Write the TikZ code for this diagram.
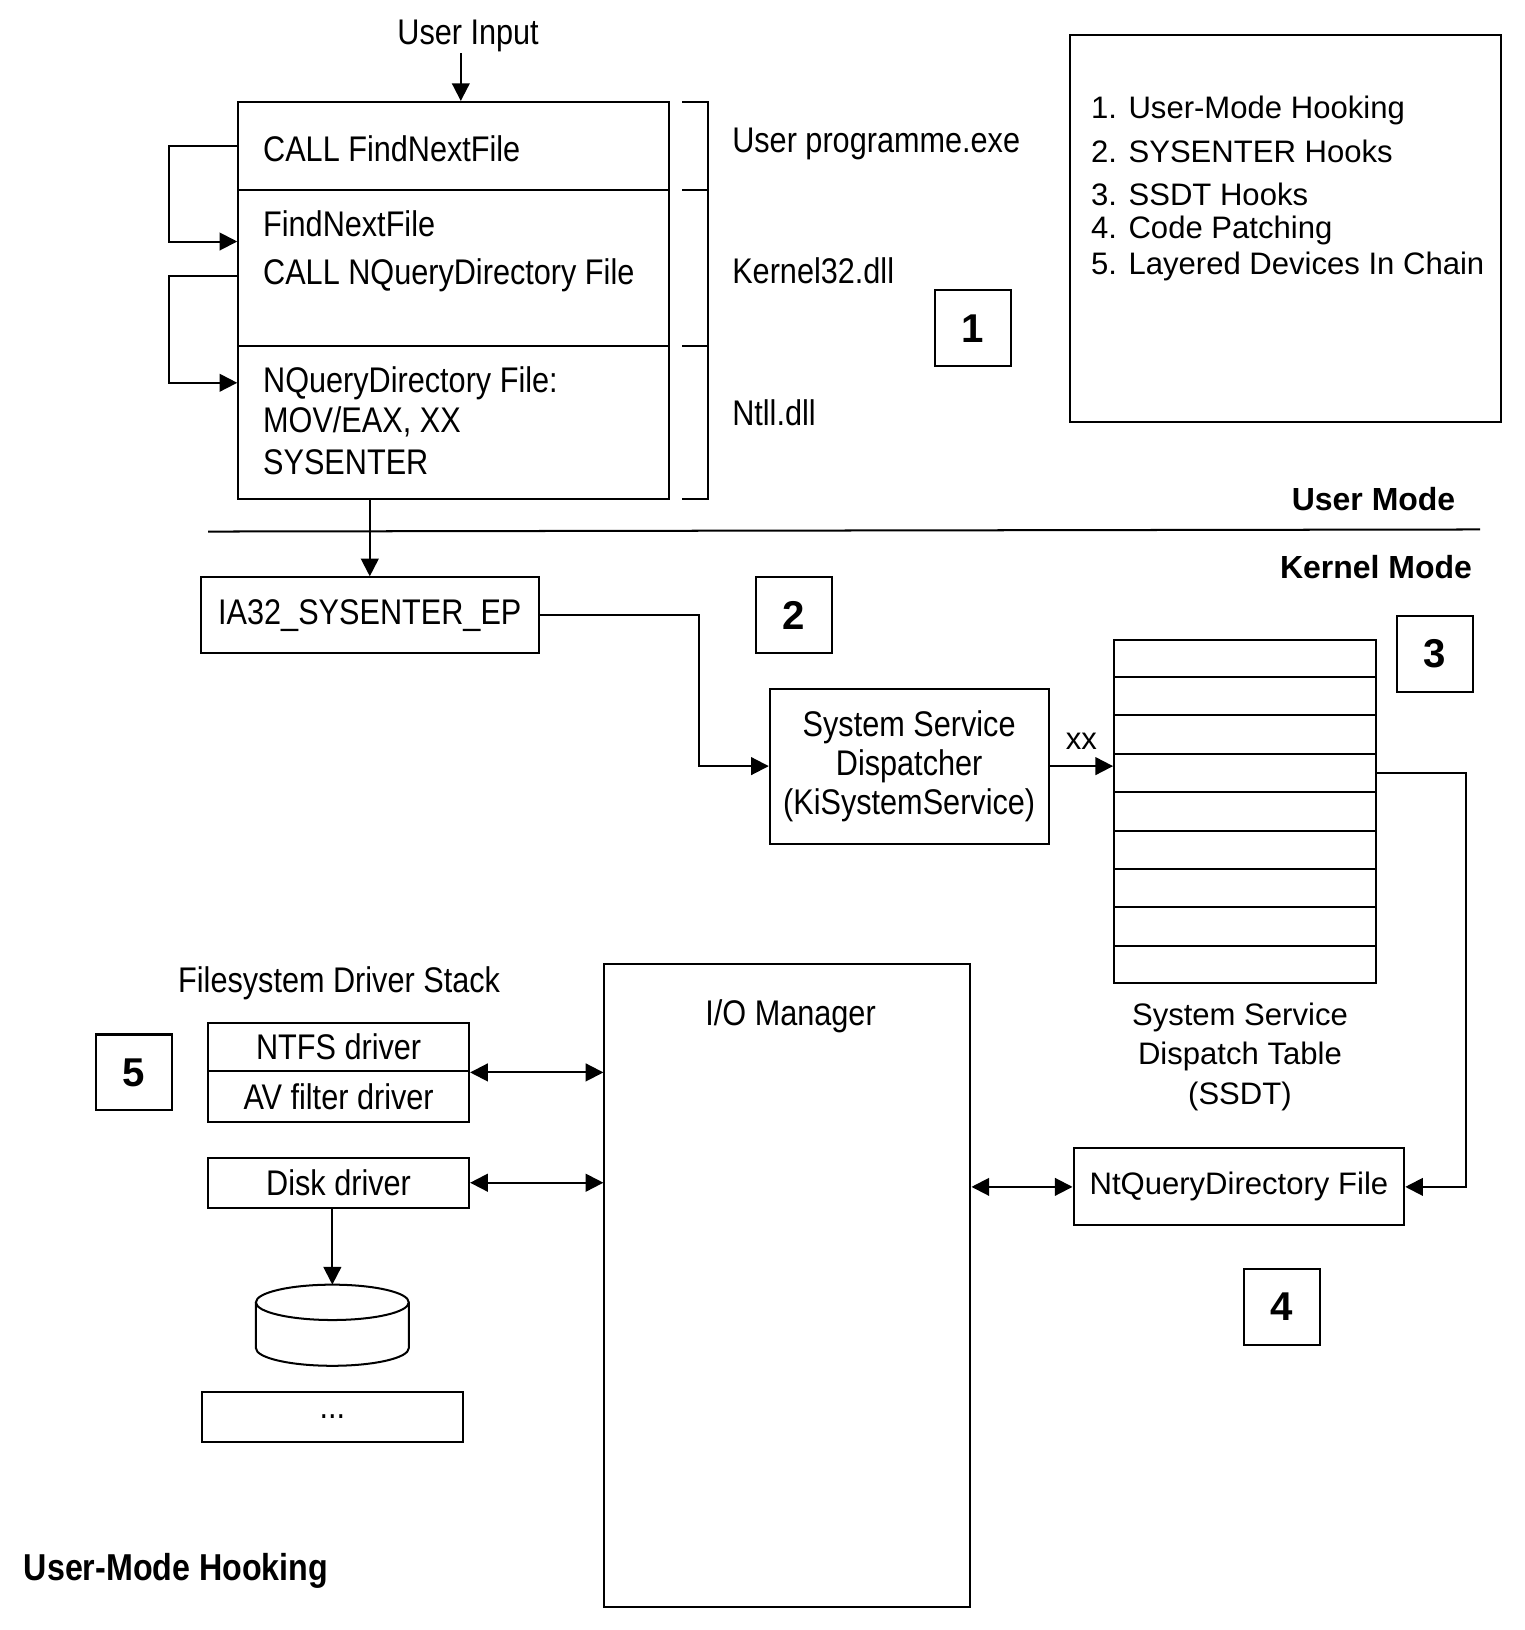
\documentclass[tikz,border=0pt]{standalone}
\usepackage{fontspec}
\setmainfont{Liberation Sans}
\newfontfamily\condfont[FakeStretch=0.86]{Liberation Sans}
\usetikzlibrary{arrows.meta,calc}

\begin{document}
\begin{tikzpicture}[x=0.02cm,y=-0.02cm,line width=1.1pt,
    box/.style={draw,inner sep=0pt},
    cond/.style={font=\condfont\fontsize{19.5}{21.5}\selectfont},
    code/.style={cond,inner sep=0pt,anchor=west},
    plain/.style={font=\fontsize{17}{21.8}\selectfont},
    numbox/.style={box,minimum size=1.46cm,font=\bfseries\fontsize{22}{26}\selectfont},
    arr/.style={-{Triangle[length=0.34cm,width=0.34cm]}},
    biarr/.style={{Triangle[length=0.34cm,width=0.34cm]}-{Triangle[length=0.34cm,width=0.34cm]}}]
  \useasboundingbox (0,0) rectangle (1466,1567);

  % user programme, kernel32, ntdll
  \node[box,minimum width=8.28cm,minimum height=1.7cm] (sec1) at (436,140.5) {};
  \node[box,minimum width=8.28cm,minimum height=3cm] (sec2) at (436,258) {};
  \node[box,minimum width=8.28cm,minimum height=2.94cm] (sec3) at (436,406.5) {};
  \node[code] (cfnf) at (252,143) {CALL FindNextFile};
  \node[code] (fnf) at (252,215) {FindNextFile};
  \node[code] (cnqd) at (252,265) {CALL NQueryDirectory File};
  \node[code] (nqd) at (252,368) {NQueryDirectory File:};
  \node[code] (mov) at (252,406) {MOV/EAX, XX};
  \node[code] (sysent) at (252,444) {SYSENTER};
  \node[cond,inner sep=0pt] (input) at (450,35) {User Input};
  \draw[arr] ([xshift=-0.14cm]input.south) -- ([xshift=-0.14cm]input.south |- sec1.north);
  \draw[arr] (sec1.west) -- ++(-66,0) |- ($(sec2.north west)!0.33!(sec2.south west)$);
  \draw[arr] (sec2.west |- cnqd) -- ++(-66,0) |- (sec3.west |- nqd);

  \draw (656,98) -- (681,98) -- (681,480) -- (656,480);
  \foreach \y in {183,333}
    \draw (656,\y) -- (681,\y);
  \node[code] (upexe) at (703,138) {User programme.exe};
  \node[code] (k32) at (703,260) {Kernel32.dll};
  \node[code] (ntll) at (703,397) {Ntll.dll};

  \node[numbox] (n1) at (935.5,315.5) {1};

  % legend
  \node[box,minimum width=8.28cm,minimum height=7.44cm] (legend) at (1236,220) {};
  \foreach \y/\t [count=\i] in {106/User-Mode Hooking,146/SYSENTER Hooks,187/SSDT Hooks,222/Code Patching,256/Layered Devices In Chain}
    \node[plain,inner sep=0pt,anchor=west] (item\i) at (1048,\y) {\i. \t};

  % user / kernel border
  \node[font=\bfseries\fontsize{17.5}{21}\selectfont,inner sep=0pt,anchor=east] (umode) at (1400,480) {User Mode};
  \node[font=\bfseries\fontsize{17.5}{21}\selectfont,inner sep=0pt,anchor=east] (kmode) at (1416,545) {Kernel Mode};
  \draw (200,511) -- (1423,509);

  % kernel side
  \node[box,cond,minimum width=6.5cm,minimum height=1.46cm] (ia32) at (355.5,591.5) {IA32\_SYSENTER\_EP};
  \draw[arr] (sec3.south -| ia32.north) -- (ia32.north);
  \node[numbox] (n2) at (763,591.5) {2};
  \node[box,cond,align=center,minimum width=5.36cm,minimum height=2.98cm] (disp) at (874,736.5) {System Service\\Dispatcher\\(KiSystemService)};
  \draw[arr] (ia32.east) -- ++(153,0) |- (disp.west);

  \node[box,minimum width=5.04cm,minimum height=6.6cm] (ssdt) at (1197,780) {};
  \foreach \i in {1,...,8}
    \draw ($(ssdt.north west)!\i/9!(ssdt.south west)$) -- ($(ssdt.north east)!\i/9!(ssdt.south east)$);
  \node[numbox] (n3) at (1379.5,628.5) {3};
  \draw[arr] (disp.east) -- (disp.east -| ssdt.west) node[plain,midway,above=5pt] {xx};
  \node[plain,align=center] (ssdtlbl) at (1192,1016) {System Service\\Dispatch Table\\(SSDT)};

  \node[box,plain,minimum width=6.36cm,minimum height=1.48cm] (ntq) at (1191,1141) {NtQueryDirectory File};
  \draw[arr] ($(ssdt.north east)!3.5/9!(ssdt.south east)$) -- ++(85,0) |- (ntq.east);
  \node[numbox] (n4) at (1232.5,1256.5) {4};

  \node[box,minimum width=7.04cm,minimum height=12.36cm] (iom) at (757,1236) {};
  \node[cond] (iomlbl) at (760,977) {I/O Manager};
  \draw[biarr] (iom.east |- ntq.west) -- (ntq.west);

  % driver stack
  \node[cond] (fsds) at (326,945) {Filesystem Driver Stack};
  \node[box,cond,minimum width=5.02cm,minimum height=0.94cm] (ntfs) at (325.5,1006.5) {NTFS driver};
  \node[box,cond,minimum width=5.02cm,minimum height=0.98cm] (avf) at (325.5,1054.5) {AV filter driver};
  \node[numbox] (n5) at (128.5,1031) {5};
  \draw[biarr] (ntfs.south east) -- (ntfs.south east -| iom.west);
  \node[box,cond,minimum width=5.02cm,minimum height=0.96cm] (disk) at (325.5,1137) {Disk driver};
  \draw[biarr] (disk.east) -- (disk.east -| iom.west);

  \coordinate (cyl) at (319.5,1235);
  \draw (319.5,1252) ellipse [x radius=73.5,y radius=17];
  \draw (246,1252) -- (246,1296) arc [start angle=180,end angle=0,x radius=73.5,y radius=17] -- (393,1252);
  \draw[arr] (disk.south -| cyl) -- (cyl);
  \node[box,cond,minimum width=5.02cm,minimum height=0.96cm] (more) at (319.5,1362) {...};

  \node[font=\condfont\bfseries\fontsize{20.5}{24}\selectfont,inner sep=0pt,anchor=west] (title) at (22,1510) {User-Mode Hooking};
\end{tikzpicture}
\end{document}
